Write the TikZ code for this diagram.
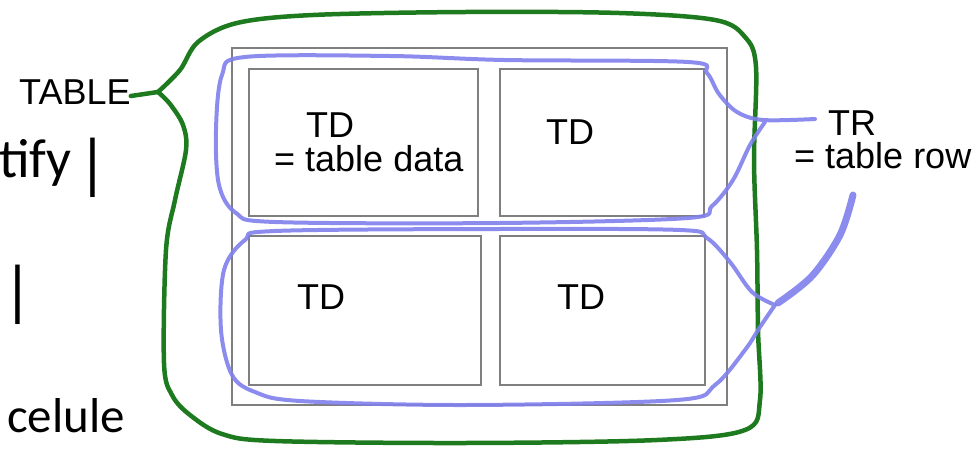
\documentclass[tikz,border=0pt]{standalone}
\usepackage{fontspec}
\setmainfont{Liberation Sans}
\newfontfamily\calfont{Carlito}
\definecolor{grn}{HTML}{1E7A1E}
\definecolor{blu}{HTML}{8080EC}
\definecolor{gry}{HTML}{7F7F7F}
\begin{document}
\begin{tikzpicture}[x=1pt,y=-1pt,
  cell/.style={draw=gry,line width=2pt},
  lbl/.style={inner sep=0pt,anchor=base west,font=\fontsize{36}{40}\selectfont},
  frag/.style={inner sep=0pt,anchor=base west,font=\calfont\fontsize{49}{56}\selectfont},
  fragbig/.style={inner sep=0pt,anchor=base west,font=\calfont\fontsize{55}{60}\selectfont},
  barfrag/.style={inner sep=0pt,anchor=base west,font=\calfont\fontsize{67}{70}\selectfont},
  gline/.style={draw=grn,line width=4.5pt,line join=round,line cap=round},
  bline/.style={draw=blu,line width=4pt,line join=round,line cap=round,opacity=0.9}]
\useasboundingbox (0,0) rectangle (978,449);
% gray table and cells
\draw[cell] (232,48) rectangle (727,405);
\draw[cell] (249,69) rectangle (478,216);
\draw[cell] (500,69) rectangle (704,216);
\draw[cell] (249,236) rectangle (481,385);
\draw[cell] (500,236) rectangle (705,385);
% texts
\node[lbl] (td1) at (306,138) {TD};
\node[lbl] (td1b) at (274,172) {= table data};
\node[lbl] (td2) at (546,145) {TD};
\node[lbl] (td3) at (297,310) {TD};
\node[lbl] (td4) at (557,310) {TD};
\node[lbl] (table) at (19,105) {TABLE};
\node[lbl] (tr) at (828,136) {TR};
\node[lbl] (trb) at (794,169) {= table row};
\node[fragbig] (f1) at (-1,178) {tify};
\node[barfrag] (f2) at (77,187) {|};
\node[barfrag] (f3) at (2,313) {|};
\node[frag] (f4) at (7,432) {celule};
% green outline
\draw[gline] (table.east |- 0,96) -- (158,92);
\draw[gline] plot[smooth,tension=0.55] coordinates {(158,92) (180,70) (198,42) (237,23) (313,15) (466,12) (619,13) (715,20) (745,37) (756,67) (754,160) (757,250) (758,330) (760,400) (745,430) (657,440) (466,443) (275,441) (222,434) (190,415) (172,395) (164,363) (166,250) (175,200) (186,150) (183,125) (170,104) (158,92)};
% blue TR lines
\draw[bline] plot[smooth,tension=0.55] coordinates {(815,119) (763,120) (737,112) (719,94) (707,73) (688,62) (504,60) (390,56) (245,57) (222,75) (216,130) (219,185) (236,213) (275,222) (500,223) (688,218) (712,206) (733,180) (750,145) (765,122)};
\draw[bline] plot[smooth,tension=0.55] coordinates {(775,305) (752,292) (730,262) (707,238) (680,230) (500,229) (275,231) (245,240) (224,270) (221,330) (232,375) (255,392) (300,401) (466,405) (677,400) (715,385) (745,350) (760,327) (775,305)};
\draw[bline,line width=7pt] plot[smooth,tension=0.55] coordinates {(853,195) (840,235) (812,276) (778,303)};
\end{tikzpicture}
\end{document}
